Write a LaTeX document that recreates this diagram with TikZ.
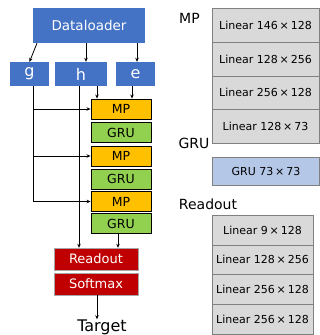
\documentclass[tikz,border=0pt]{standalone}
\usepackage{fontspec}
\setmainfont{DejaVu Sans}
\usepackage{tikz}
\usetikzlibrary{arrows.meta, positioning}
\definecolor{dlblue}{HTML}{4472C4}
\definecolor{mporange}{HTML}{FFC000}
\definecolor{grugreen}{HTML}{92D050}
\definecolor{rored}{HTML}{C00000}
\definecolor{celgray}{HTML}{D9D9D9}
\definecolor{celblue}{HTML}{B4C7E7}
\newcommand{\fs}[1]{\fontsize{#1}{#1}\selectfont}
\newcommand{\by}{\,×\,}

\begin{document}
\begin{tikzpicture}[x=1pt, y=-1pt,
    inbox/.style={fill=dlblue, text=white, minimum height=24pt, inner sep=0pt, font=\fs{16}},
    layer/.style={draw=black, line width=0.9pt, minimum width=60pt, minimum height=20pt, inner sep=0pt, font=\fs{12.5}},
    outbox/.style={fill=rored, draw=black!35, text=white, minimum width=84pt, minimum height=22pt, inner sep=0pt, font=\fs{13}},
    cell/.style={draw=black!50, fill=celgray, line width=0.7pt, inner sep=0pt, font=\fs{11}},
    title/.style={font=\fs{14}, inner sep=0pt},
    arr/.style={draw, -{Stealth[length=4pt, width=3.5pt]}}
  ]
  \def\edgewidth{0.8}
  \useasboundingbox (0,0) rectangle (320,335);
  \node[fill=dlblue, text=white, minimum width=112pt, minimum height=35pt, inner sep=0pt, font=\fs{13.5}] (D) at (89,25.5) {Dataloader};
  \node[inbox, minimum width=39pt] (g) at (29.5,74) {g};
  \node[inbox, minimum width=52pt] (h) at (81,74) {h};
  \node[inbox, minimum width=39pt] (e) at (135.5,74) {e};

  \node[layer, fill=mporange] (M1) at (121,109) {MP};
  \node[layer, fill=grugreen] (G1) at (121,132.5) {GRU};
  \node[layer, fill=mporange] (M2) at (121,156) {MP};
  \node[layer, fill=grugreen] (G2) at (121,179) {GRU};
  \node[layer, fill=mporange] (M3) at (121,201.5) {MP};
  \node[layer, fill=grugreen] (G3) at (121,223.5) {GRU};

  \node[outbox] (R) at (96,259) {Readout};
  \node[outbox] (S) at (96,284) {Softmax};
  \node[font=\fs{16}, inner sep=0pt] (T) at (102,327) {Target};

  \draw[arr, line width = \edgewidth] ([xshift=-52pt]D.south) -- (g.north);
  \draw[arr, line width = \edgewidth] ([xshift=-3pt]D.south) -- ([xshift=-3pt]D.south |- h.north);
  \draw[arr, line width = \edgewidth] ([xshift=48pt]D.south) -- ([xshift=48pt]D.south |- e.north);
  \draw[arr, line width = \edgewidth] ([xshift=3.5pt]g.south) |- (M1.west);
  \draw[arr, line width = \edgewidth] ([xshift=3.5pt]g.south) |- (M2.west);
  \draw[arr, line width = \edgewidth] ([xshift=3.5pt]g.south) |- (M3.west);
  \draw[arr, line width = \edgewidth] ([xshift=-2pt]h.south) -- ([xshift=-2pt]h.south |- R.north);
  \draw[arr, line width = \edgewidth] ([xshift=16pt]h.south) -- ([xshift=16pt]h.south |- M1.north);
  \draw[arr, line width = \edgewidth] ([xshift=-3.5pt]e.south) -- ([xshift=-3.5pt]e.south |- M1.north);
  \draw[arr, line width = \edgewidth] ([xshift=-3pt]G3.south) -- ([xshift=-3pt]G3.south |- R.north);
  \draw[arr, line width = \edgewidth] ([xshift=1pt]S.south) -- ([xshift=1pt]S.south |- T.north);

  % layer sizes
  \node[title] (mpt) at (189.5,18) {MP};
  \node[cell, minimum width=107pt, minimum height=34pt] (mp1) at (265.5,25) {Linear 146\by128};
  \node[cell, minimum width=107pt, minimum height=34pt] (mp2) at (265.5,59) {Linear 128\by256};
  \node[cell, minimum width=107pt, minimum height=33pt] (mp3) at (265.5,92.5) {Linear 256\by128};
  \node[cell, minimum width=107pt, minimum height=34pt] (mp4) at (265.5,126) {Linear 128\by73};

  \node[title] (grut) at (194,143) {GRU};
  \node[cell, fill=celblue, minimum width=107pt, minimum height=28pt] (gru) at (266,171) {GRU 73\by73};

  \node[title] (rot) at (208,204) {Readout};
  \node[cell, minimum width=101pt, minimum height=29.75pt] (ro1) at (262.5,230) {Linear 9\by128};
  \node[cell, minimum width=101pt, minimum height=29.75pt] (ro2) at (262.5,259.75) {Linear 128\by256};
  \node[cell, minimum width=101pt, minimum height=29.75pt] (ro3) at (262.5,289.5) {Linear 256\by128};
  \node[cell, minimum width=101pt, minimum height=29.75pt] (ro4) at (262.5,319.25) {Linear 256\by128};
\end{tikzpicture}
\end{document}
